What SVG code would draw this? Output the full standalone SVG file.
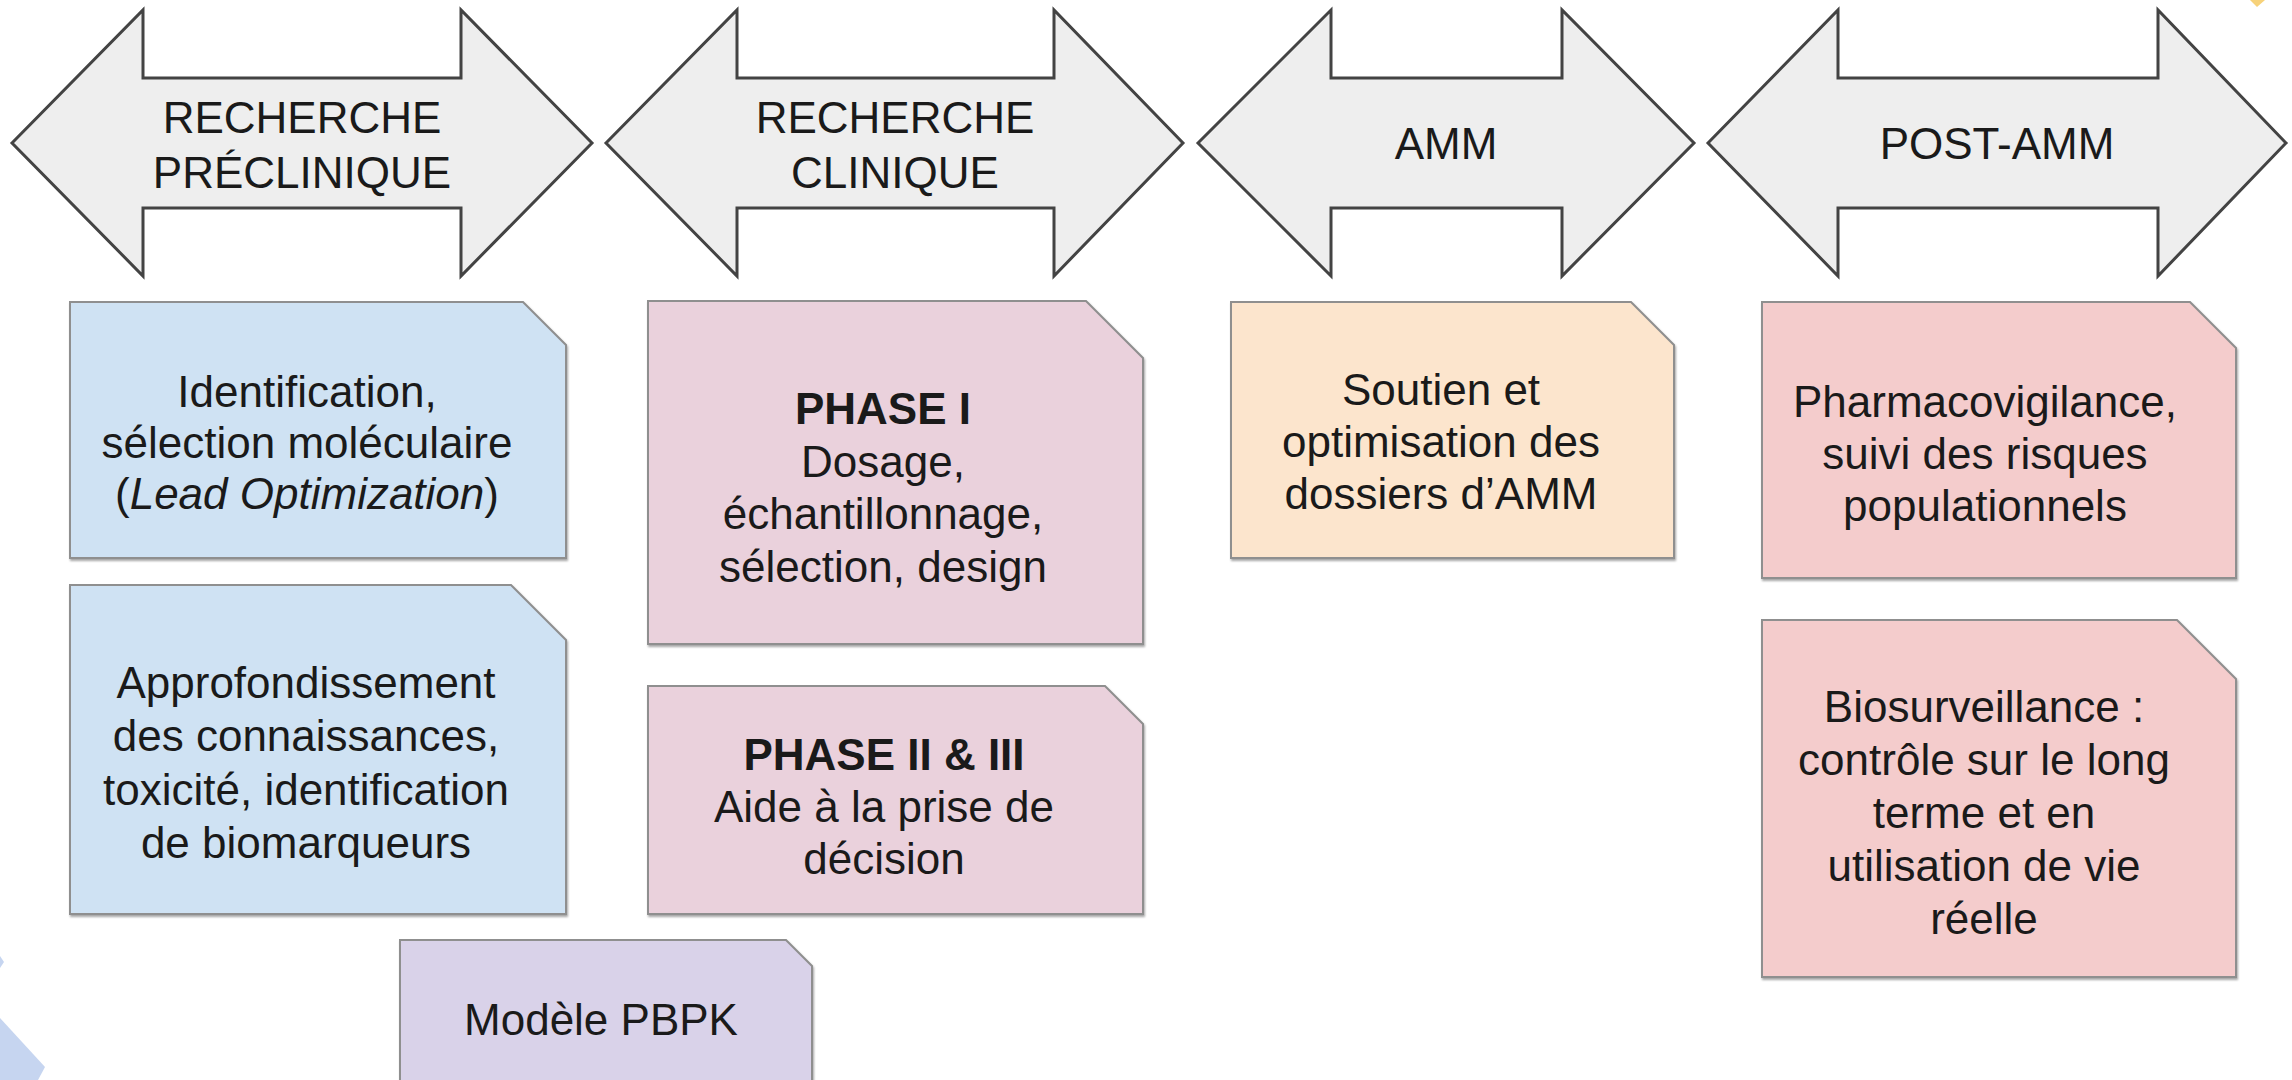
<svg xmlns="http://www.w3.org/2000/svg" width="2292" height="1080" viewBox="0 0 2292 1080">
  <defs>
    <filter id="shadow" x="-5%" y="-5%" width="110%" height="115%">
      <feDropShadow dx="1" dy="2" stdDeviation="1.2" flood-color="#000" flood-opacity="0.35"/>
    </filter>
    <style>
      .stage { fill: #eeeeee; stroke: #434343; stroke-width: 3; stroke-linejoin: miter; }
      .card { stroke: #8f8f8f; stroke-width: 2; filter: url(#shadow); }
      .blue { fill: #cfe2f3; }
      .pink { fill: #ead1dc; }
      .peach { fill: #fce5cd; }
      .rose { fill: #f4cccc; }
      .lilac { fill: #d9d2e9; }
      text { font-family: "Liberation Sans", Arial, sans-serif; font-size: 44px; fill: #1a1a1a; text-anchor: middle; }
      .b { font-weight: bold; }
      .i { font-style: italic; }
    </style>
  </defs>

  <rect width="2292" height="1080" fill="#ffffff"/>

  <!-- partial decorations at the page edges -->
  <polygon points="0,1018 45,1067 38,1080 0,1080" fill="#c6d5f0"/>
  <polygon points="0,956 4,962 0,968" fill="#c6d5f0"/>
  <polygon points="2250,0 2265,0 2257,7" fill="#f7d27a"/>

  <!-- stage banners: double-headed arrows -->
  <g id="stage-preclinique">
    <path class="stage" d="M12,143 L143,10 V78 H461 V10 L592,143 L461,276 V208 H143 V276 Z"/>
    <text x="302" y="133">RECHERCHE</text>
    <text x="302" y="188">PRÉCLINIQUE</text>
  </g>
  <g id="stage-clinique">
    <path class="stage" d="M606,143 L737,10 V78 H1054 V10 L1183,143 L1054,276 V208 H737 V276 Z"/>
    <text x="895" y="133">RECHERCHE</text>
    <text x="895" y="188">CLINIQUE</text>
  </g>
  <g id="stage-amm">
    <path class="stage" d="M1198,143 L1331,10 V78 H1562 V10 L1694,143 L1562,276 V208 H1331 V276 Z"/>
    <text x="1446" y="159">AMM</text>
  </g>
  <g id="stage-post-amm">
    <path class="stage" d="M1708,143 L1838,10 V78 H2158 V10 L2286,143 L2158,276 V208 H1838 V276 Z"/>
    <text x="1997" y="159">POST-AMM</text>
  </g>

  <!-- activity cards (snipped top-right corner) -->
  <g id="card-lead-optimization">
    <path class="card blue" d="M70,302 H523 L566,345 V558 H70 Z"/>
    <text x="307" y="407">Identification,</text>
    <text x="307" y="458">sélection moléculaire</text>
    <text x="307" y="509">(<tspan class="i">Lead Optimization</tspan>)</text>
  </g>
  <g id="card-toxicite">
    <path class="card blue" d="M70,585 H511 L566,640 V914 H70 Z"/>
    <text x="306" y="698">Approfondissement</text>
    <text x="306" y="751">des connaissances,</text>
    <text x="306" y="805">toxicité, identification</text>
    <text x="306" y="858">de biomarqueurs</text>
  </g>
  <g id="card-phase-1">
    <path class="card pink" d="M648,301 H1086 L1143,358 V644 H648 Z"/>
    <text class="b" x="883" y="424">PHASE I</text>
    <text x="883" y="477">Dosage,</text>
    <text x="883" y="529">échantillonnage,</text>
    <text x="883" y="582">sélection, design</text>
  </g>
  <g id="card-phase-2-3">
    <path class="card pink" d="M648,686 H1105 L1143,724 V914 H648 Z"/>
    <text class="b" x="884" y="770">PHASE II &amp; III</text>
    <text x="884" y="822">Aide à la prise de</text>
    <text x="884" y="874">décision</text>
  </g>
  <g id="card-amm">
    <path class="card peach" d="M1231,302 H1631 L1674,345 V558 H1231 Z"/>
    <text x="1441" y="405">Soutien et</text>
    <text x="1441" y="457">optimisation des</text>
    <text x="1441" y="509">dossiers d’AMM</text>
  </g>
  <g id="card-pharmacovigilance">
    <path class="card rose" d="M1762,302 H2190 L2236,348 V578 H1762 Z"/>
    <text x="1985" y="417">Pharmacovigilance,</text>
    <text x="1985" y="469">suivi des risques</text>
    <text x="1985" y="521">populationnels</text>
  </g>
  <g id="card-biosurveillance">
    <path class="card rose" d="M1762,620 H2177 L2236,679 V977 H1762 Z"/>
    <text x="1984" y="722">Biosurveillance :</text>
    <text x="1984" y="775">contrôle sur le long</text>
    <text x="1984" y="828">terme et en</text>
    <text x="1984" y="881">utilisation de vie</text>
    <text x="1984" y="934">réelle</text>
  </g>
  <g id="card-pbpk">
    <path class="card lilac" d="M400,940 H786 L812,966 V1096 H400 Z"/>
    <text x="601" y="1035">Modèle PBPK</text>
  </g>
</svg>
